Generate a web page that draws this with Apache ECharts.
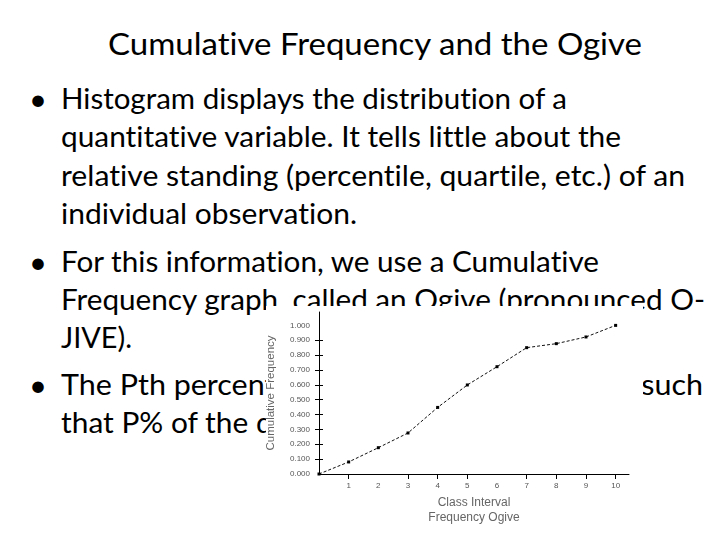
<!DOCTYPE html>
<html>
<head>
<meta charset="utf-8">
<script src="https://cdn.jsdelivr.net/npm/echarts@6/dist/echarts.min.js"></script>
<style>
    html, body {margin: 0; padding: 0; background: #fff;}
    #slide {position: relative; width: 720px; height: 540px; overflow: hidden;}
    #slide svg {position: absolute; left: 0; top: 0; font-variant-ligatures: none; font-feature-settings: "liga" 0, "clig" 0;}
    #chart {position: absolute; left: 266px; top: 306px; width: 377px; height: 234px; background: #fff;}
</style>
</head>
<body>
<div id="slide">
    <svg width="720" height="540" font-family="Lato, 'Open Sans', sans-serif" fill="#000">
        <text x="108" y="55" font-size="31.5" textLength="534" lengthAdjust="spacingAndGlyphs">Cumulative Frequency and the Ogive</text>

        <g font-size="31" text-anchor="middle">
            <text x="38" y="110">•</text>
            <text x="38" y="272.5">•</text>
            <text x="38" y="396">•</text>
        </g>

        <g font-size="28">
            <text x="61" y="109" textLength="506" lengthAdjust="spacingAndGlyphs">Histogram displays the distribution of a</text>
            <text x="61" y="147.4" textLength="560" lengthAdjust="spacingAndGlyphs">quantitative variable. It tells little about the</text>
            <text x="61" y="185.8" textLength="624" lengthAdjust="spacingAndGlyphs">relative standing (percentile, quartile, etc.) of an</text>
            <text x="61" y="224.2" textLength="296" lengthAdjust="spacingAndGlyphs">individual observation.</text>

            <text x="61" y="271.5" textLength="538" lengthAdjust="spacingAndGlyphs">For this information, we use a Cumulative</text>
            <text x="61" y="309.9" textLength="644" lengthAdjust="spacingAndGlyphs">Frequency graph, called an Ogive (pronounced O-</text>
            <text x="61" y="348.3" textLength="71" lengthAdjust="spacingAndGlyphs">JIVE).</text>

            <text x="61" y="395" textLength="642" lengthAdjust="spacingAndGlyphs">The Pth percentile is the value of a variable such</text>
            <text x="61" y="433.4" textLength="486" lengthAdjust="spacingAndGlyphs">that P% of the data fall at or below it.</text>
        </g>
    </svg>
    <div id="chart"></div>
</div>
<script>
    // class interval number and cumulative relative frequency
    const classes = [0, 1, 2, 3, 4, 5, 6, 7, 8, 9, 10];
    const cumFreq = [0.000, 0.081, 0.177, 0.276, 0.448, 0.599, 0.722, 0.850, 0.877, 0.922, 1.000];

    // tick labels / tick marks as they appear in the picture
    const yTickLabels = [0, 0.1, 0.2, 0.3, 0.4, 0.5, 0.6, 0.7, 0.8, 0.9, 1.0];
    const yTickMarks = [0.1, 0.2, 0.3, 0.4, 0.5, 0.6, 0.7, 0.8, 0.9];
    const xTickLabels = [1, 2, 3, 4, 5, 6, 7, 8, 9, 10];
    const xTickMarks = [1, 3, 4, 5, 7, 8, 9, 10];

    const labelFont = {fontFamily: 'Liberation Sans, Arial, sans-serif', fontSize: 8, color: '#555'};
    const nameFont = {fontFamily: 'Liberation Sans, Arial, sans-serif', color: '#666'};

    const chart = echarts.init(document.getElementById('chart'), null, {renderer: 'canvas'});

    const option = {
        animation: false,
        backgroundColor: '#fff',
        // outerBoundsMode none: keep the plot box where it is, the axis name may sit close to the edge
        grid: {left: 53, top: 6, right: 14, bottom: 66, containLabel: false, outerBoundsMode: 'none'},
        xAxis: {
            type: 'value',
            min: 0,
            max: 10.45,
            name: 'Class Interval\nFrequency Ogive',
            nameLocation: 'middle',
            nameGap: 21,
            nameTextStyle: {...nameFont, fontSize: 12, lineHeight: 15, verticalAlign: 'top'},
            axisLine: {show: true, lineStyle: {color: '#000', width: 1}},
            axisTick: {show: true, length: 5, customValues: xTickMarks, lineStyle: {color: '#000'}},
            axisLabel: {...labelFont, margin: 8, customValues: xTickLabels},
            splitLine: {show: false}
        },
        yAxis: [
            {
                type: 'value',
                min: 0,
                max: 1.09,
                name: 'Cumulative Frequency',
                nameLocation: 'middle',
                nameGap: 42,
                nameTextStyle: {...nameFont, fontSize: 11.5},
                axisLine: {show: true, lineStyle: {color: '#000', width: 1}},
                axisTick: {show: true, length: 4, customValues: yTickMarks, lineStyle: {color: '#000'}},
                axisLabel: {
                    ...labelFont,
                    margin: 9,
                    customValues: yTickLabels,
                    formatter: (v) => Number(v).toFixed(3)
                },
                splitLine: {show: false}
            },
            {
                // inner half of the crossing tick marks
                type: 'value',
                min: 0,
                max: 1.09,
                position: 'left',
                axisLine: {show: false},
                axisTick: {show: true, inside: true, length: 4, customValues: yTickMarks, lineStyle: {color: '#000'}},
                axisLabel: {show: false},
                splitLine: {show: false}
            }
        ],
        series: [{
            type: 'line',
            data: classes.map((c, i) => [c, cumFreq[i]]),
            symbol: 'rect',
            symbolSize: 3,
            itemStyle: {color: '#000'},
            lineStyle: {color: '#111', width: 1, type: [3, 2]}
        }]
    };

    chart.setOption(option);
</script>
</body>
</html>
